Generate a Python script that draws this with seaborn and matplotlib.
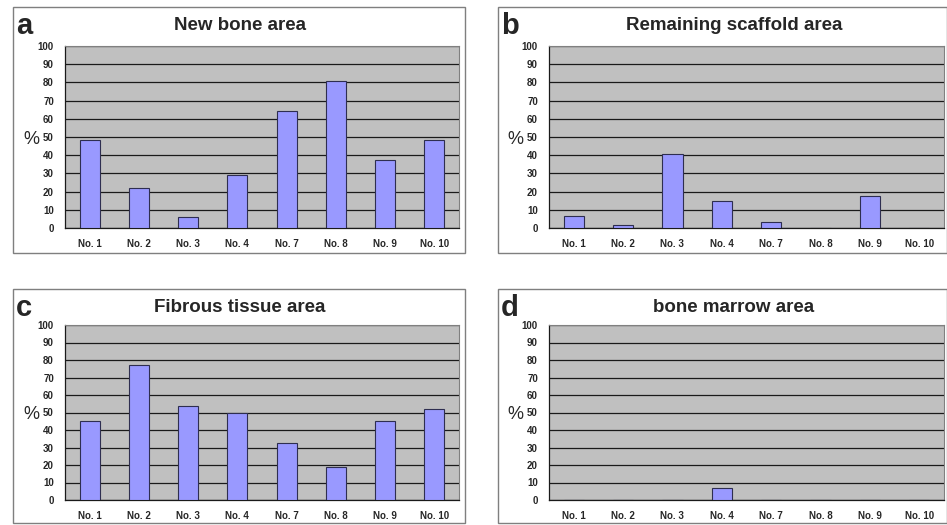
import numpy as np
import pandas as pd
import matplotlib
matplotlib.use("Agg")
import matplotlib.pyplot as plt
from matplotlib.patches import Rectangle
import seaborn as sns

sns.set_theme(style="white")
plt.rcParams['font.family'] = ['Liberation Sans', 'DejaVu Sans']

samples = ["No. 1", "No. 2", "No. 3", "No. 4", "No. 7", "No. 8", "No. 9", "No. 10"]
new_bone = [48.4, 22.1, 5.9, 28.9, 64.4, 81.0, 37.1, 48.1]
remaining_scaffold = [6.4, 1.5, 40.9, 15.0, 3.5, 0.0, 17.8, 0.0]
fibrous_tissue = [45.1, 77.0, 53.7, 49.5, 32.4, 19.0, 45.1, 51.8]
bone_marrow = [0.0, 0.0, 0.0, 6.7, 0.0, 0.0, 0.0, 0.0]

panel_letters = ["a", "b", "c", "d"]
panel_titles = ["New bone area", "Remaining scaffold area", "Fibrous tissue area", "bone marrow area"]
panel_values = [new_bone, remaining_scaffold, fibrous_tissue, bone_marrow]
y_ticks = list(range(0, 101, 10))

W, H = 947, 525
fig = plt.figure(figsize=(W / 100, H / 100), dpi=100)
fig.patch.set_facecolor("white")

# pixel layouts: box, plot area, title centre x
layouts = [
    ((13, 7, 465, 253), (65, 46, 459, 228), 240),
    ((498, 7, 947, 253), (549, 46, 944, 228), 734),
    ((13, 289, 465, 523), (65, 325, 459, 500), 240),
    ((498, 289, 947, 523), (549, 325, 944, 500), 734),
]

def fx(px):
    return px / W

def fy(py):
    return 1 - py / H

for letter, title, vals, (box, area, tcx) in zip(panel_letters, panel_titles, panel_values, layouts):
    bx0, by0, bx1, by1 = box
    fig.patches.append(Rectangle((fx(bx0), fy(by1)), fx(bx1) - fx(bx0), fy(by0) - fy(by1),
                                 transform=fig.transFigure, fill=False,
                                 edgecolor="#7f7f7f", linewidth=1.0, zorder=0))
    x0, y0, x1, y1 = area
    ax = fig.add_axes([fx(x0), fy(y1), fx(x1) - fx(x0), fy(y0) - fy(y1)])
    ax.set_facecolor("#C0C0C0")
    df = pd.DataFrame({"sample": samples, "value": vals})
    sns.barplot(data=df, x="sample", y="value", ax=ax, color="#9999FF",
                edgecolor="#2e2e50", linewidth=0.8, width=0.41, saturation=1, zorder=3)
    ax.set_ylim(0, 100)
    ax.set_xlim(-0.5, len(samples) - 0.5)
    ax.set_yticks(y_ticks)
    ax.set_yticklabels([str(t) for t in y_ticks], fontsize=7, fontweight="bold")
    ax.set_xticks(range(len(samples)))
    ax.set_xticklabels(samples, fontsize=7, fontweight="bold")
    ax.set_xticks(np.arange(-0.5, len(samples), 1), minor=True)
    ax.tick_params(axis="x", which="major", length=0, pad=8)
    ax.tick_params(axis="x", which="minor", length=3, width=0.8, color="black", direction="out")
    ax.tick_params(axis="y", which="major", length=0, pad=8)
    ax.yaxis.grid(True, color="#1a1a1a", linewidth=0.9, zorder=1)
    ax.set_axisbelow(True)
    ax.set_xlabel("")
    ax.set_ylabel("")
    for side in ["top", "right"]:
        ax.spines[side].set_color("#808080")
        ax.spines[side].set_linewidth(0.8)
    for side in ["left", "bottom"]:
        ax.spines[side].set_color("#1a1a1a")
        ax.spines[side].set_linewidth(0.9)
    fig.text(fx(x0 - 34), fy((y0 + y1) / 2 + 2), "%",
             fontsize=13, ha="center", va="center")
    fig.text(fx(bx0 + 3), fy(by0 + 19), letter, fontsize=21, fontweight="bold",
             ha="left", va="center")
    fig.text(fx(tcx), fy(by0 + 22.5), title, fontsize=13.5,
             fontweight="bold", ha="center", va="baseline")

fig.savefig("out.png", dpi=100)
